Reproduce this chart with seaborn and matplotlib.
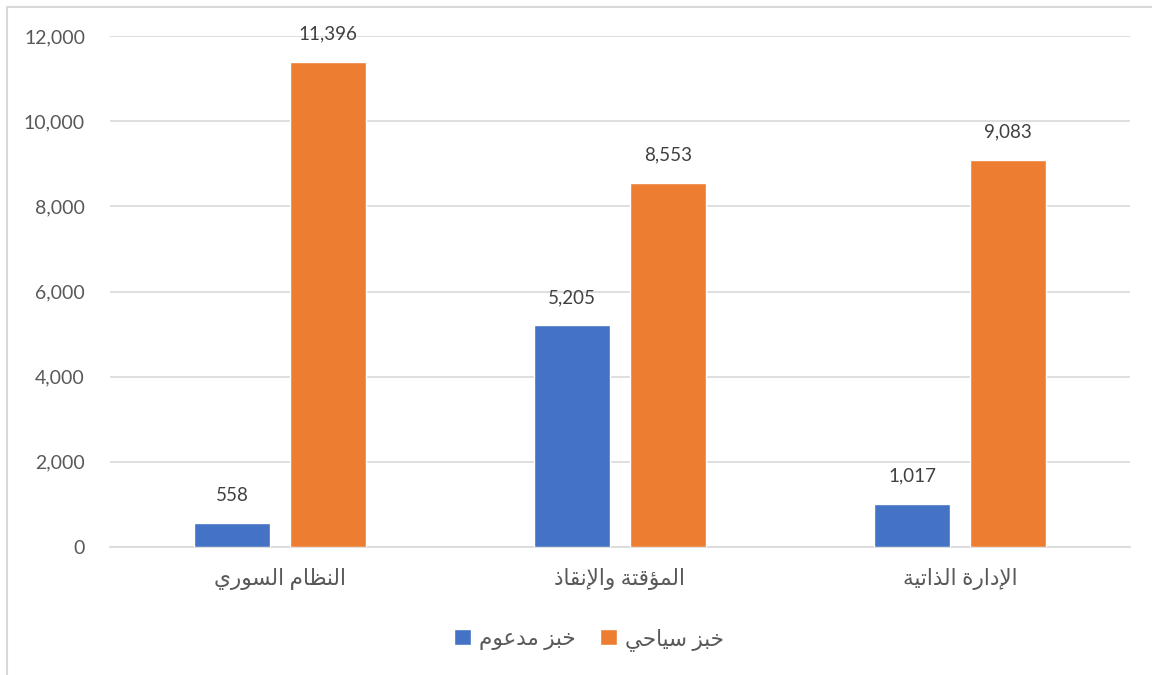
import matplotlib
matplotlib.use("Agg")
import matplotlib.pyplot as plt
import seaborn as sns
import pandas as pd
from matplotlib.patches import Rectangle
from matplotlib.ticker import FuncFormatter

# ---------------- data ----------------
categories = ["النظام السوري", "المؤقتة والإنقاذ", "الإدارة الذاتية"]
series_names = ["خبز مدعوم", "خبز سياحي"]
subsidized = [558, 5205, 1017]
tourist = [11396, 8553, 9083]
y_ticks = [0, 2000, 4000, 6000, 8000, 10000, 12000]
colors = ["#4472C4", "#ED7D31"]

# ------------- minimal Arabic shaping (presentation forms) -------------
DUAL = {"ب": 0xFE8F, "ت": 0xFE95, "ث": 0xFE99, "ج": 0xFE9D, "ح": 0xFEA1,
        "خ": 0xFEA5, "س": 0xFEB1, "ش": 0xFEB5, "ص": 0xFEB9, "ض": 0xFEBD,
        "ط": 0xFEC1, "ظ": 0xFEC5, "ع": 0xFEC9, "غ": 0xFECD, "ف": 0xFED1,
        "ق": 0xFED5, "ك": 0xFED9, "ل": 0xFEDD, "م": 0xFEE1, "ن": 0xFEE5,
        "ه": 0xFEE9, "ي": 0xFEF1, "ئ": 0xFE89}
RIGHT = {"ا": 0xFE8D, "أ": 0xFE83, "إ": 0xFE87, "آ": 0xFE81, "ؤ": 0xFE85,
         "د": 0xFEA9, "ذ": 0xFEAB, "ر": 0xFEAD, "ز": 0xFEAF, "و": 0xFEED,
         "ة": 0xFE93, "ى": 0xFEEF}
LAMALEF = {"ا": 0xFEFB, "إ": 0xFEF9, "أ": 0xFEF7, "آ": 0xFEF5}


def is_ar(c):
    return c in DUAL or c in RIGHT


def shape(text):
    out = []
    chars = list(text)
    i = 0
    n = len(chars)
    while i < n:
        c = chars[i]
        if not is_ar(c):
            out.append(c)
            i += 1
            continue
        prev = chars[i - 1] if i > 0 else None
        jp = prev is not None and prev in DUAL
        if c == "ل" and i + 1 < n and chars[i + 1] in LAMALEF:
            base = LAMALEF[chars[i + 1]]
            out.append(chr(base + (1 if jp else 0)))
            i += 2
            continue
        nxt = chars[i + 1] if i + 1 < n else None
        jn = c in DUAL and nxt is not None and is_ar(nxt)
        base = DUAL.get(c, RIGHT.get(c))
        if jp and jn:
            off = 3
        elif jp:
            off = 1
        elif jn:
            off = 2
        else:
            off = 0
        out.append(chr(base + off))
        i += 1
    return "".join(out)[::-1]


cat_disp = [shape(c) for c in categories]
ser_disp = [shape(s) for s in series_names]

df = pd.DataFrame({
    "category": cat_disp * 2,
    "series": [ser_disp[0]] * 3 + [ser_disp[1]] * 3,
    "value": subsidized + tourist,
})

# ---------------- plot ----------------
sns.set_theme(style="white")
plt.rcParams["font.family"] = ["Lato", "DejaVu Sans"]

fig = plt.figure(figsize=(11.52, 6.75), dpi=100)
ax = fig.add_axes([110 / 1152, 1 - 547 / 675, 1020 / 1152, (547 - 36) / 675])

sns.barplot(data=df, x="category", y="value", hue="series",
            palette=colors, width=0.565, gap=0.208, ax=ax,
            saturation=1, legend=True, zorder=3)

ax.set_ylim(0, 12000)
ax.set_xlim(-0.5, 2.5)
ax.set_yticks(y_ticks)
ax.yaxis.set_major_formatter(FuncFormatter(lambda v, p: f"{int(v):,}"))
ax.grid(axis="y", color="#D9D9D9", linewidth=1.2, zorder=0)
ax.set_axisbelow(True)
for s in ["top", "right", "left"]:
    ax.spines[s].set_visible(False)
ax.spines["bottom"].set_color("#D9D9D9")
ax.spines["bottom"].set_linewidth(1.2)
ax.tick_params(axis="y", length=0, pad=18, labelsize=14, labelcolor="#595959")
ax.tick_params(axis="x", length=0, pad=15, labelsize=15.5, labelcolor="#595959")
ax.set_xlabel("")
ax.set_ylabel("")

for cont in ax.containers:
    ax.bar_label(cont, labels=[f"{int(v.get_height()):,}" for v in cont],
                 padding=14, fontsize=13.5, color="#404040")

leg = ax.legend(loc="upper center", bbox_to_anchor=(0.5 - 31 / 1020, -0.12),
                ncol=2, frameon=False, fontsize=15.5, handlelength=0.8,
                handleheight=0.8, handletextpad=0.35, columnspacing=1.15)
for t in leg.get_texts():
    t.set_color("#595959")

fig.patches.append(Rectangle((7 / 1152, -0.1), 1.2, 1.1 - 7 / 675,
                             transform=fig.transFigure, fill=False,
                             edgecolor="#D9D9D9", linewidth=1.5))

fig.savefig("out.png", dpi=100)
